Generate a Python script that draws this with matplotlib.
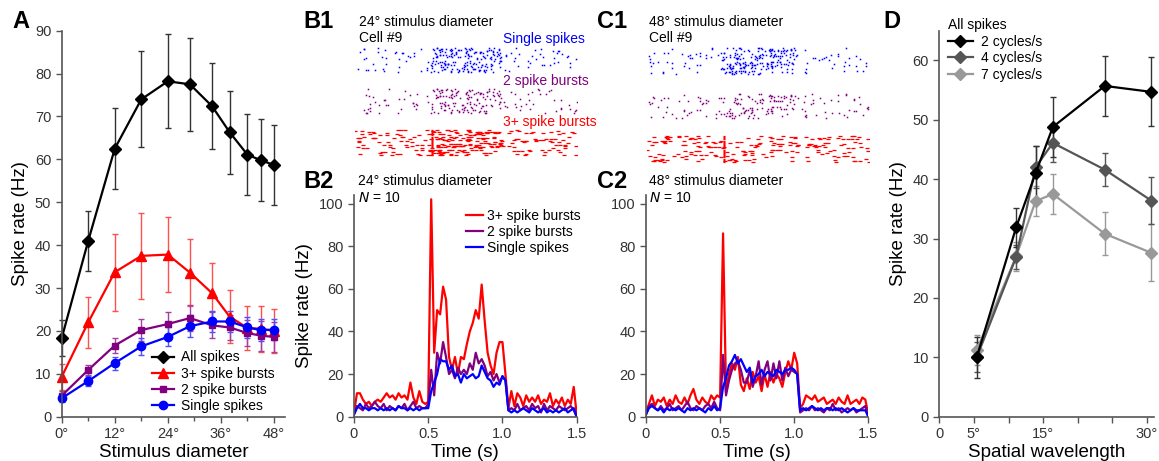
import numpy as np
import matplotlib
matplotlib.use("Agg")
import matplotlib.pyplot as plt
from matplotlib.ticker import MultipleLocator, FixedLocator

plt.rcParams['font.family'] = ['Liberation Sans', 'DejaVu Sans']
plt.rcParams['font.size'] = 10

W, H = 1159, 461
RED, PURPLE, BLUE = '#ff0000', '#800080', '#0000ff'
AXC = '#555555'
TXC = '#333333'

# ---------------- data: panel A (tuning vs stimulus diameter) ----------------
diam = [0, 6, 12, 18, 24, 29, 34, 38, 42, 45, 48]
all_sp = [18.3, 41.0, 62.5, 74.0, 78.2, 77.5, 72.4, 66.3, 61.1, 59.8, 58.7]
all_err = [4.2, 7.0, 9.5, 11.2, 11.0, 10.8, 10.0, 9.6, 9.5, 9.6, 9.3]
b3_sp = [9.3, 22.0, 33.7, 37.5, 37.8, 33.6, 28.8, 23.3, 20.7, 20.5, 20.0]
b3_err = [3.0, 6.0, 9.0, 10.0, 8.8, 7.8, 7.0, 6.2, 5.2, 5.3, 5.1]
b2_sp = [4.9, 10.9, 16.6, 20.2, 21.6, 23.0, 21.3, 20.8, 19.5, 18.9, 18.6]
b2_err = [1.0, 1.2, 1.8, 2.5, 2.8, 3.0, 3.0, 3.0, 3.0, 3.5, 3.5]
single_sp = [4.3, 8.3, 12.5, 16.4, 18.6, 21.1, 22.2, 22.2, 20.8, 20.2, 20.3]
single_err = [0.8, 1.2, 1.5, 2.0, 2.2, 2.5, 2.5, 2.5, 2.5, 2.5, 2.5]

# ---------------- data: PSTHs (20 ms steps, 0..1.5 s) ----------------
t_psth = np.round(np.arange(76) * 0.02, 2)
b2_red = [2, 11, 11, 8, 6, 7, 5, 7, 8, 7, 9, 11, 9, 10, 8, 11, 9, 10, 8, 16,
          9, 6, 12, 7, 6, 7, 102, 30, 50, 48, 61, 55, 28, 22, 28, 20, 28, 27, 34, 40,
          44, 50, 46, 62, 45, 30, 24, 20, 30, 35, 35, 20, 4, 12, 5, 11, 9, 5, 10, 7,
          9, 7, 10, 6, 8, 7, 11, 5, 8, 6, 9, 5, 8, 6, 14, 1]
b2_purple = [1, 5, 4, 3, 6, 4, 5, 7, 5, 4, 6, 3, 5, 4, 3, 5, 4, 6, 3, 5,
             7, 4, 5, 4, 4, 6, 22, 10, 30, 25, 35, 28, 20, 22, 18, 23, 20, 22, 20, 25,
             22, 30, 25, 27, 24, 19, 21, 17, 20, 16, 19, 17, 3, 4, 3, 6, 3, 4, 5, 3,
             6, 4, 5, 2, 6, 3, 5, 4, 3, 5, 4, 3, 4, 5, 3, 0]
b2_blue = [1, 4, 6, 4, 4, 3, 4, 4, 3, 4, 3, 4, 3, 4, 3, 5, 4, 4, 3, 4,
           3, 4, 3, 4, 4, 4, 12, 16, 20, 27, 26, 26, 22, 24, 19, 20, 16, 20, 18, 19,
           20, 18, 19, 24, 21, 18, 17, 14, 16, 15, 19, 17, 3, 2, 3, 2, 3, 4, 3, 2,
           4, 3, 2, 3, 4, 2, 3, 2, 3, 2, 3, 4, 2, 3, 4, 0]
c2_red = [2, 6, 10, 5, 8, 7, 9, 5, 8, 6, 10, 7, 6, 9, 6, 10, 13, 8, 6, 9,
          7, 6, 10, 8, 10, 9, 86, 12, 20, 25, 22, 28, 15, 12, 18, 13, 21, 16, 19, 12,
          20, 14, 21, 16, 20, 18, 14, 21, 26, 22, 30, 25, 4, 6, 10, 9, 8, 10, 7, 8,
          9, 6, 7, 8, 6, 9, 7, 6, 10, 6, 7, 8, 6, 9, 8, 1]
c2_purple = [1, 5, 6, 4, 3, 5, 3, 4, 6, 3, 4, 5, 3, 5, 7, 4, 3, 5, 4, 3,
             5, 6, 4, 7, 4, 3, 29, 10, 17, 22, 25, 26, 22, 16, 16, 22, 14, 19, 26, 15,
             22, 26, 17, 25, 18, 26, 17, 23, 19, 22, 21, 20, 2, 3, 4, 3, 5, 3, 4, 3,
             2, 4, 3, 6, 3, 4, 2, 3, 4, 3, 4, 2, 3, 4, 5, 0]
c2_blue = [1, 4, 5, 4, 3, 4, 2, 4, 3, 4, 3, 4, 3, 2, 4, 3, 4, 3, 4, 3,
           2, 4, 3, 5, 3, 4, 14, 18, 24, 26, 29, 25, 27, 24, 21, 23, 16, 19, 20, 22,
           19, 21, 20, 19, 22, 21, 20, 22, 22, 23, 22, 20, 3, 4, 3, 4, 5, 4, 3, 4,
           3, 4, 4, 3, 4, 3, 4, 3, 2, 3, 4, 3, 3, 3, 3, 0]

# ---------------- data: rasters (dots per 0.1 s segment, all trials) ----------------
seg_start = np.round(np.arange(15) * 0.1, 1)
r_b1_blue = [8, 7, 8, 7, 5, 36, 40, 38, 36, 32, 8, 6, 7, 8, 6]
r_b1_purple = [7, 8, 6, 7, 6, 26, 32, 30, 28, 20, 7, 8, 6, 7, 6]
r_b1_red = [14, 13, 12, 14, 12, 38, 36, 33, 36, 26, 12, 13, 11, 14, 12]
r_c1_blue = [8, 9, 7, 8, 5, 40, 44, 40, 42, 36, 7, 5, 7, 6, 7]
r_c1_purple = [8, 7, 9, 8, 7, 20, 22, 20, 24, 22, 8, 7, 7, 8, 7]
r_c1_red = [14, 16, 14, 17, 13, 14, 13, 14, 15, 13, 13, 14, 13, 15, 13]
onset_t = 0.52
n_trials = 24


def px_axes(fig, x0, y0, x1, y1):
    # pixel box (top-left origin) -> axes
    return fig.add_axes([x0 / W, 1 - y1 / H, (x1 - x0) / W, (y1 - y0) / H])


def style(ax):
    for s in ['top', 'right']:
        ax.spines[s].set_visible(False)
    for s in ['left', 'bottom']:
        ax.spines[s].set_color(AXC)
        ax.spines[s].set_linewidth(1.2)
    ax.tick_params(which='both', direction='out', color=AXC, labelcolor=TXC,
                   labelsize=10.5, width=1)
    ax.tick_params(which='major', length=4)
    ax.tick_params(which='minor', length=3)


def jitter(a, b):
    # deterministic scatter of dot positions inside a segment
    v = np.sin(a * 12.9898 + b * 78.233) * 43758.5453
    return v - np.floor(v)


def raster(ax, counts, y0, y1, color, marker, ms, mew=0.0, salt=0.0):
    xs, ys = [], []
    for i, n in enumerate(counts):
        for k in range(n):
            xs.append(seg_start[i] + 0.1 * jitter(k + 1.3 + salt, i + 0.7))
            row = np.floor(jitter(k + 5.1 + salt, i + 2.9) * n_trials)
            ys.append(y0 + (y1 - y0) * row / (n_trials - 1))
    ax.plot(xs, ys, ls='none', marker=marker, ms=ms, color=color, mew=mew)


# ---------------- data: panel D (spatial wavelength) ----------------
wavelen = [5.4, 11.1, 13.9, 16.4, 23.9, 30.6]
cyc2 = [10.0, 31.9, 41.0, 48.8, 55.7, 54.7]
cyc2_err = [3.5, 3.3, 4.5, 5.1, 5.1, 5.8]
cyc4 = [10.0, 26.9, 42.0, 46.1, 41.6, 36.4]
cyc4_err = [2.5, 2.0, 3.5, 3.2, 2.8, 4.0]
cyc7 = [11.2, 27.0, 36.3, 37.5, 30.8, 27.6]
cyc7_err = [2.5, 2.5, 2.5, 3.3, 3.6, 4.8]

fig = plt.figure(figsize=(W / 100, H / 100), dpi=100)

# ================= Panel A =================
axA = px_axes(fig, 61.7, 30.7, 285, 416.7)
style(axA)
ekw = dict(elinewidth=1, capsize=2, capthick=1, clip_on=False, lw=1.6)
eA = axA.errorbar(diam, all_sp, yerr=all_err, color='black', ecolor='#333333',
                  marker='D', ms=6, **ekw)
e3 = axA.errorbar(diam, b3_sp, yerr=b3_err, color=RED, ecolor='#ff5050',
                  marker='^', ms=7, **ekw)
e2 = axA.errorbar(diam, b2_sp, yerr=b2_err, color=PURPLE, ecolor='#a040a0',
                  marker='s', ms=5, **ekw)
e1 = axA.errorbar(diam, single_sp, yerr=single_err, color=BLUE, ecolor='#5050ff',
                  marker='o', ms=6, **ekw)
for c in (eA, e3, e2, e1):
    for art in c.get_children():
        art.set_clip_on(False)
axA.set_xlim(0, 50.5)
axA.set_ylim(0, 90)
axA.xaxis.set_major_locator(FixedLocator([0, 12, 24, 36, 48]))
axA.set_xticklabels(['0°', '12°', '24°', '36°', '48°'])
axA.xaxis.set_minor_locator(FixedLocator([6, 18, 30, 42]))
axA.yaxis.set_major_locator(MultipleLocator(10))
axA.set_xlabel('Stimulus diameter', fontsize=13.5, labelpad=2)
axA.set_ylabel('Spike rate (Hz)', fontsize=13.5, labelpad=4)
axA.legend([eA[0], e3[0], e2[0], e1[0]],
           ['All spikes', '3+ spike bursts', '2 spike bursts', 'Single spikes'],
           loc='lower right', bbox_to_anchor=(0.98, -0.004), frameon=False,
           fontsize=10, handlelength=1.6, handletextpad=0.5, labelspacing=0.15,
           borderaxespad=0.0)

# ================= Panels B1/C1 rasters =================
axB1 = px_axes(fig, 355, 45, 577, 165)
axC1 = px_axes(fig, 646.7, 45, 869, 165)
for ax in (axB1, axC1):
    ax.set_xlim(0, 1.5)
    ax.set_ylim(165, 45)
    ax.axis('off')

raster(axB1, r_b1_blue, 48, 72, BLUE, 's', 1.1, salt=0.0)
raster(axB1, r_b1_purple, 89, 113, PURPLE, 's', 1.1, salt=11.0)
raster(axB1, r_b1_red, 130, 155, RED, '_', 2.6, 0.9, salt=23.0)
axB1.plot([onset_t] * n_trials, np.linspace(130, 155, n_trials), ls='none',
          marker='_', ms=2.0, mew=0.9, color=RED)
raster(axC1, r_c1_blue, 48, 74, BLUE, 's', 1.1, salt=37.0)
raster(axC1, r_c1_purple, 94, 118, PURPLE, 's', 1.1, salt=41.0)
raster(axC1, r_c1_red, 136, 162, RED, '_', 2.6, 0.9, salt=53.0)
axC1.plot([onset_t] * n_trials, np.linspace(136, 162, n_trials), ls='none',
          marker='_', ms=2.0, mew=0.9, color=RED)

# ================= Panels B2/C2 PSTHs =================
axB2 = px_axes(fig, 354, 195, 576.7, 416.7)
axC2 = px_axes(fig, 646, 195, 868.3, 416.7)
for ax, (r, p, b) in ((axB2, (b2_red, b2_purple, b2_blue)),
                      (axC2, (c2_red, c2_purple, c2_blue))):
    style(ax)
    ax.plot(t_psth, r, color=RED, lw=1.6, label='3+ spike bursts')
    ax.plot(t_psth, p, color=PURPLE, lw=1.6, label='2 spike bursts')
    ax.plot(t_psth, b, color=BLUE, lw=1.6, label='Single spikes')
    ax.set_xlim(0, 1.5)
    ax.set_ylim(0, 104)
    ax.set_xticks([0, 0.5, 1.0, 1.5])
    ax.set_xticklabels(['0', '0.5', '1.0', '1.5'])
    ax.set_yticks([0, 20, 40, 60, 80, 100])
    ax.set_xlabel('Time (s)', fontsize=13.5, labelpad=2)
axB2.set_ylabel('Spike rate (Hz)', fontsize=13.5, labelpad=4)
axB2.legend(loc='upper right', bbox_to_anchor=(1.043, 0.962), frameon=False,
            fontsize=10, handlelength=1.2, handletextpad=0.3, labelspacing=0.15,
            borderaxespad=0.0)

# ================= Panel D =================
axD = px_axes(fig, 939.3, 30.7, 1154, 416.7)
style(axD)
ekw2 = dict(elinewidth=1, capsize=2, capthick=1, lw=1.6, clip_on=False)
d7 = axD.errorbar(wavelen, cyc7, yerr=cyc7_err, color='#999999', ecolor='#999999',
                  marker='D', ms=6, **ekw2)
d4 = axD.errorbar(wavelen, cyc4, yerr=cyc4_err, color='#555555', ecolor='#555555',
                  marker='D', ms=6, **ekw2)
d2 = axD.errorbar(wavelen, cyc2, yerr=cyc2_err, color='black', ecolor='#333333',
                  marker='D', ms=6, **ekw2)
for c in (d2, d4, d7):
    for art in c.get_children():
        art.set_clip_on(False)
axD.set_xlim(0, 31)
axD.set_ylim(0, 65)
axD.xaxis.set_major_locator(FixedLocator([0, 5, 10, 15, 20, 25, 30]))
axD.set_xticklabels(['0', '5°', '', '15°', '', '', '30°'])
axD.yaxis.set_major_locator(MultipleLocator(10))
axD.set_xlabel('Spatial wavelength', fontsize=13.5, labelpad=2)
axD.set_ylabel('Spike rate (Hz)', fontsize=13.5, labelpad=4)
legD = axD.legend([d2[0], d4[0], d7[0]], ['2 cycles/s', '4 cycles/s', '7 cycles/s'],
                  title='All spikes', loc='upper left', bbox_to_anchor=(0.0, 1.055),
                  frameon=False, fontsize=10, title_fontsize=10,
                  handlelength=1.8, handletextpad=0.6, labelspacing=0.2,
                  borderaxespad=0.2)
legD._legend_box.align = 'left'

# ================= texts =================
def ftext(x, y, s, **kw):
    fig.text(x / W, 1 - y / H, s, **kw)

for lab, x, y in (('A', 12, 22), ('B1', 303, 21), ('B2', 303, 181),
                  ('C1', 597, 21), ('C2', 597, 181), ('D', 883, 21)):
    ftext(x, y, lab, fontsize=17, fontweight='bold', va='center', ha='left')

ftext(359, 25.7, '24° stimulus diameter', fontsize=10, va='baseline')
ftext(359, 42.3, 'Cell #9', fontsize=10, va='baseline')
ftext(503, 43.3, 'Single spikes', fontsize=10, va='baseline', color=BLUE)
ftext(503, 85, '2 spike bursts', fontsize=10, va='baseline', color=PURPLE)
ftext(503, 126, '3+ spike bursts', fontsize=10, va='baseline', color=RED)
ftext(649, 25.7, '48° stimulus diameter', fontsize=10, va='baseline')
ftext(649, 42.3, 'Cell #9', fontsize=10, va='baseline')
ftext(358, 185, '24° stimulus diameter', fontsize=10, va='baseline')
ftext(358, 201.7, '$\\it{N}$ = 10', fontsize=10, va='baseline')
ftext(649, 185, '48° stimulus diameter', fontsize=10, va='baseline')
ftext(649, 201.7, '$\\it{N}$ = 10', fontsize=10, va='baseline')

fig.savefig('out.png', dpi=100)
